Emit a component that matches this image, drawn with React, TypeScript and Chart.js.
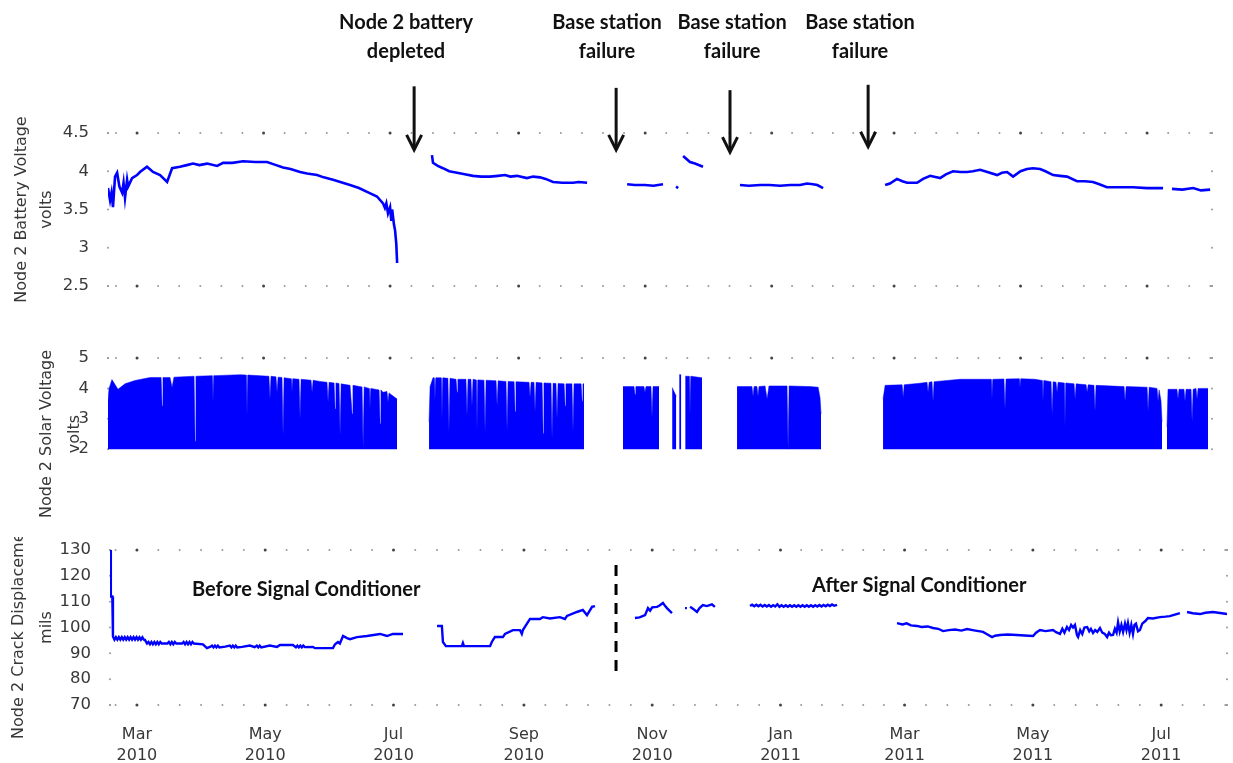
import React, { useEffect, useRef } from "react";
import { Chart, registerables } from "chart.js";
Chart.register(...registerables);

type Pt = [number, number];

// x values are days counted from 1 Mar 2010
const xTickDays = [0, 61, 122, 184, 245, 306, 365, 426, 487];
const xTickLabels = [
  ["Mar", "2010"], ["May", "2010"], ["Jul", "2010"], ["Sep", "2010"], ["Nov", "2010"],
  ["Jan", "2011"], ["Mar", "2011"], ["May", "2011"], ["Jul", "2011"],
];

const batteryTicks = [2.5, 3, 3.5, 4, 4.5];
const solarTicks = [2, 3, 4, 5];
const crackTicks = [70, 80, 90, 100, 110, 120, 130];

// Node 2 battery voltage (volts), one inner array per recorded stretch
const batteryVoltage: Pt[][] = [
  [[-14, 3.78], [-13.5, 3.7], [-13, 3.62], [-12.3, 3.72], [-11.6, 3.53], [-10.6, 3.93], [-9.6, 3.98], [-8.5, 3.8], [-7.2, 3.72], [-6.5, 3.85], [-5.8, 3.65], [-4.8, 3.89], [-4.3, 3.8], [-2.4, 3.91], [0, 3.95], [1.4, 3.99], [4.8, 4.06], [7.7, 3.99], [11.1, 3.95], [14.5, 3.86], [16.9, 4.04], [20.7, 4.06], [24, 4.08], [27, 4.1], [30, 4.08], [33.8, 4.1], [38.6, 4.07], [41.5, 4.11], [46, 4.11], [51.1, 4.13], [57, 4.12], [62.7, 4.12], [66, 4.09], [70.4, 4.05], [74, 4.03], [78.6, 3.99], [82, 3.97], [86.8, 3.95], [90, 3.92], [94.5, 3.89], [98, 3.86], [102.7, 3.82], [107, 3.78], [110.9, 3.73], [115.7, 3.67], [118.6, 3.58], [119.5, 3.52], [120.2, 3.58], [121, 3.45], [122, 3.53], [122.6, 3.35], [123, 3.5], [123.9, 3.3], [124.4, 3.23], [125, 3.05], [125.4, 2.8]],
  [[142.2, 4.21], [142.7, 4.11], [145, 4.07], [147.5, 4.04], [150.5, 4.0], [154.3, 3.98], [158, 3.96], [162, 3.94], [166, 3.93], [170.2, 3.93], [174, 3.94], [177.4, 3.95], [180, 3.93], [183.2, 3.94], [188, 3.91], [191, 3.93], [194.3, 3.92], [197, 3.9], [200.6, 3.86], [205, 3.85], [210.2, 3.85], [213, 3.86], [217, 3.85]],
  [[236.3, 3.83], [240, 3.82], [244.9, 3.82], [249, 3.81], [253.6, 3.83]],
  [[259.9, 3.8], [260.9, 3.78]],
  [[263.3, 4.2], [266.6, 4.12], [269, 4.1], [272.9, 4.06]],
  [[290.7, 3.82], [295, 3.81], [300.4, 3.82], [305, 3.82], [310, 3.81], [315, 3.82], [319.7, 3.82], [323, 3.84], [325.9, 3.83], [328, 3.82], [330.8, 3.78]],
  [[360.7, 3.82], [363, 3.84], [366.4, 3.9], [369, 3.87], [371.3, 3.85], [376.1, 3.85], [379, 3.9], [382.4, 3.94], [387.2, 3.91], [390, 3.96], [393.4, 4], [397, 3.99], [400.2, 3.99], [403, 4.0], [406.5, 4.02], [410, 3.99], [414.7, 3.95], [417, 3.98], [419.5, 3.99], [422.4, 3.93], [426, 4.0], [429.1, 4.03], [432, 4.04], [435.4, 4.03], [438, 4.0], [441.7, 3.95], [445, 3.94], [448.4, 3.93], [453.2, 3.87], [457, 3.87], [460.9, 3.86], [464, 3.83], [467.6, 3.79], [474, 3.79], [480.2, 3.79], [487, 3.78], [494.7, 3.78]],
  [[499, 3.77], [504, 3.76], [509.2, 3.78], [513, 3.75], [517.4, 3.76]],
];

// Node 2 solar voltage (volts): daily peak envelope with low days
const solarVoltage: Pt[][] = [
  [[-14, 3.6], [-13.5, 4.0], [-12.1, 4.29], [-9.2, 3.97], [-5.8, 4.15], [-1, 4.26], [6.3, 4.36], [11.6, 4.36], [12.1, 3.42], [12.5, 4.36], [15.9, 4.36], [16.9, 4.03], [17.8, 4.37], [27.5, 4.4], [28, 2.26], [28.4, 4.4], [36.2, 4.42], [36.6, 3.55], [37.1, 4.42], [49.7, 4.45], [52.6, 4.44], [53, 3.1], [53.5, 4.44], [63.6, 4.4], [64.1, 3.65], [64.6, 4.4], [67, 4.38], [67.5, 3.87], [68, 4.37], [69.9, 4.36], [70.4, 2.45], [70.9, 4.35], [74.3, 4.32], [74.7, 3.87], [75.2, 4.32], [78.1, 4.3], [78.6, 3.0], [79.1, 4.3], [83.9, 4.27], [84.4, 3.87], [84.9, 4.27], [88.2, 4.23], [91.6, 4.2], [92.1, 3.55], [92.6, 4.2], [95, 4.18], [95.5, 3.32], [95.9, 4.18], [97.4, 4.16], [97.9, 2.45], [98.4, 4.15], [102.7, 4.1], [103.7, 3.16], [104.1, 4.1], [108.5, 4.05], [109, 2.03], [109.5, 4.05], [111.9, 4.0], [112.3, 3.32], [112.8, 4.0], [116.7, 3.95], [117.2, 2.84], [117.6, 3.95], [118.6, 3.87], [120.5, 3.9], [121, 3.55], [121.5, 3.85], [124.4, 3.7], [125.4, 3.65]],
  [[140.8, 2.9], [141.3, 4.06], [142.7, 4.35], [143.2, 4.35], [143.6, 3.55], [144.1, 4.35], [146.6, 4.35], [147, 2.94], [147.5, 4.35], [149.9, 4.33], [150.4, 2.58], [150.9, 4.33], [153.8, 4.3], [154.3, 3.87], [154.7, 4.3], [158.6, 4.3], [159.1, 3.1], [159.6, 4.3], [161, 4.3], [161.5, 3.42], [162, 4.3], [163.5, 4.28], [163.9, 2.61], [164.4, 4.28], [167.3, 4.27], [167.8, 2.58], [168.3, 4.27], [173.1, 4.25], [173.6, 3.42], [174.1, 4.25], [177.9, 4.23], [178.4, 2.61], [178.9, 4.23], [181.8, 4.22], [182.3, 3.23], [182.7, 4.22], [189, 4.2], [189.5, 3.7], [190, 4.2], [191.4, 4.2], [191.9, 3.23], [192.4, 4.2], [195.3, 4.18], [195.8, 2.52], [196.2, 4.18], [199.6, 4.17], [200.1, 2.35], [200.6, 4.17], [202, 4.16], [202.5, 3.0], [203, 4.16], [205.9, 4.15], [206.4, 3.42], [206.8, 4.15], [209.7, 4.15], [210.2, 2.58], [210.7, 4.15], [214.1, 4.15], [214.6, 3.58], [215, 4.15], [215.5, 4.15]],
  [[234.3, 4.06], [239.6, 4.06], [240.1, 3.8], [240.5, 4.06], [244.4, 4.06], [244.9, 3.87], [245.4, 4.06], [247.8, 4.06], [248.3, 3.06], [248.8, 4.06], [251.7, 4.06]],
  [[258, 4.03], [260, 3.74]],
  [[261.4, 4.45], [262.4, 4.45]],
  [[264.3, 4.4], [266.2, 4.4], [266.6, 3.1], [267.1, 4.4], [272.4, 4.35]],
  [[289.3, 4.06], [296.5, 4.06], [297, 3.74], [297.5, 4.06], [298.9, 4.06], [299.4, 3.74], [299.9, 4.06], [302.8, 4.08], [303.8, 3.65], [304.7, 4.08], [313.4, 4.08], [313.9, 2.0], [314.4, 4.08], [324.5, 4.06], [328.4, 4.04], [329.3, 3.7], [329.8, 3.16]],
  [[359.7, 3.65], [360.7, 4.1], [368.9, 4.12], [369.4, 3.7], [369.9, 4.12], [377.5, 4.17], [380.9, 4.2], [381.4, 3.87], [381.9, 4.2], [383.3, 4.22], [383.8, 3.58], [384.3, 4.22], [396.8, 4.3], [411.8, 4.3], [412.2, 3.65], [412.7, 4.3], [418, 4.31], [418.5, 3.32], [419, 4.31], [425.3, 4.32], [425.7, 4.03], [426.2, 4.32], [433, 4.3], [436.4, 4.26], [436.8, 3.58], [437.3, 4.26], [440.7, 4.22], [441.2, 3.16], [441.7, 4.22], [443.1, 4.2], [443.6, 3.87], [444.1, 4.2], [447, 4.18], [447.4, 2.74], [447.9, 4.18], [451.8, 4.15], [452.3, 3.65], [452.8, 4.15], [457.6, 4.12], [458.1, 3.87], [458.6, 4.12], [461.4, 4.1], [461.9, 3.26], [462.4, 4.1], [475.9, 4.06], [476.4, 3.58], [476.9, 4.06], [487, 4.04], [487.5, 3.26], [488, 4.04], [491.8, 4.0], [492.3, 3.58], [492.8, 3.95], [493.7, 3.6], [494.2, 2.9]],
  [[496.6, 2.74], [497.1, 3.97], [501.4, 3.97], [501.9, 3.65], [502.4, 3.97], [504.8, 3.97], [505.3, 3.58], [505.8, 3.97], [508.2, 3.97], [508.7, 2.9], [509.2, 3.97], [510.6, 4.0], [511.1, 3.65], [511.6, 4.0], [516.4, 4.0]],
];

// Node 2 crack displacement (mils); rapid alternations are the noisy readings
const crackDisplacement: Pt[][] = [
  [[-12.8, 130], [-12.4, 112], [-11.7, 112], [-11.4, 96.5], [-10.7, 95.3], [-10.0, 96.3], [-9.3, 95.3], [-8.6, 96.3], [-7.9, 95.3], [-7.2, 96.3], [-6.5, 95.3], [-5.8, 96.3], [-5.1, 95.3], [-4.4, 96.3], [-3.7, 95.3], [-3.0, 96.3], [-2.3, 95.3], [-1.6, 96.3], [-0.9, 95.3], [-0.2, 96.3], [0.5, 95.3], [1.2, 96.2], [1.9, 95.3], [2.6, 96.2], [3.3, 95.3], [3.8, 95.2],
    [4.8, 93.8], [5.5, 94.4], [6.2, 93.5], [6.9, 94.4], [7.6, 93.5], [8.3, 94.4], [9, 93.5], [9.7, 94.4], [10.4, 93.5], [11.1, 94.4], [11.8, 93.8], [14.5, 93.8], [15.2, 94.4], [15.9, 93.5], [16.6, 94.4], [17.3, 93.5], [18, 94.4], [18.7, 93.8], [21.5, 93.8], [22.2, 94.4], [22.9, 93.5], [23.6, 94.4], [24.3, 93.5], [25, 94.4], [25.7, 93.5], [26.4, 94.4], [27.1, 93.8], [31.4, 93.5],
    [33.3, 92], [35, 92.6], [35.7, 93], [36.4, 92.3], [37.1, 93], [37.8, 92.3], [38.5, 93], [39.2, 92.3], [42, 92.6], [44.2, 93], [44.9, 92.3], [45.6, 93], [46.3, 92.3], [47, 93], [47.7, 92.3], [50, 92.5], [53.7, 93], [56, 92.4], [57, 93], [57.7, 92.3], [58.4, 93], [59.1, 92.3], [63.2, 93], [66.6, 92.5], [68, 93.2], [74.2, 93.2], [75.6, 92.3], [76.3, 93], [77, 92.3], [77.7, 93], [78.4, 92.3], [79.1, 93], [79.9, 92.4], [83.7, 92.5], [84.6, 92], [93.2, 92], [94.2, 93.5], [95.6, 94.4], [96.5, 93.8], [98, 96.7], [99.9, 95.9], [101.3, 95.5], [104.6, 96.3], [109.4, 96.7], [115.6, 97.5], [118.9, 96.7], [121.7, 97.5], [126.5, 97.5]],
  [[142.7, 100.6], [145, 100.6], [145.5, 94.4], [146.9, 92.8], [154.5, 92.8], [155, 94], [155.5, 92.8], [167.9, 92.8], [168.8, 94.5], [170.2, 96.3], [174, 96.3], [175, 97.5], [178.8, 99], [182.1, 99], [183, 97.5], [183.5, 99], [186.9, 103.3], [191.6, 103.3], [193, 104], [196.4, 103.5], [201.1, 104], [203.5, 103.3], [204.5, 104.5], [209.2, 106], [212, 106.8], [214, 104.8], [216.4, 108], [217.8, 108.3]],
  [[236.8, 103.7], [239, 103.9], [241.6, 104.8], [243, 107.5], [244, 106.5], [245, 107.8], [247.3, 108], [248.5, 108.5], [250.1, 109.5], [251, 108.5], [252, 107.5], [253.2, 106.5], [254.4, 105.6]],
  [[260.6, 107.5], [261.5, 107.5]],
  [[263, 108], [264.5, 107.2], [266.3, 106], [267.5, 107.5], [269.1, 108.7], [271, 108.3], [273.4, 109], [274.8, 108]],
  [[291.5, 108.3], [292.5, 108.8], [293.5, 108.2], [294.5, 108.8], [295.5, 108.2], [296.5, 108.8], [297.5, 108.1], [298.5, 108.7], [299.5, 108.1], [300.5, 108.7], [301.5, 108.0], [302.5, 108.6], [303.5, 108.1], [304.5, 109.0], [305.5, 108.0], [306.5, 108.6], [307.5, 108.0], [308.5, 108.6], [309.5, 108.0], [310.5, 108.6], [311.5, 108.0], [312.5, 108.6], [313.5, 108.0], [314.5, 108.6], [315.5, 108.0], [316.5, 108.6], [317.5, 108.0], [318.5, 108.6], [319.5, 108.0], [320.5, 108.6], [321.5, 108.0], [322.5, 108.6], [323.5, 108.1], [324.5, 108.7], [325.5, 108.1], [326.5, 108.7], [327.5, 108.2], [328.5, 108.8], [329.5, 108.3], [330.5, 108.9], [331.5, 108.4], [332.9, 108.8]],
  [[361.4, 101.7], [364, 101.2], [366, 101.6], [368, 100.8], [370.9, 100.6], [373, 100.2], [376, 100.4], [378.5, 99.8], [381, 99.5], [383.3, 98.6], [386, 99], [389, 99.2], [392, 98.8], [394.7, 99.4], [398, 98.9], [402.3, 98.3], [404, 97.5], [406.6, 96.3], [408, 96.8], [410.4, 97.1], [414, 97.3], [418.4, 97.1], [422, 96.9], [426.1, 96.7], [427.5, 98], [429.4, 99], [432, 98.6], [435.6, 99], [437, 98.2], [438.9, 97.5], [440, 99.5], [441, 98], [442.2, 100.2], [443.2, 99], [444.2, 101], [445.1, 100], [446, 101], [447, 97], [447.5, 96.3], [448.5, 99], [449.5, 97.5], [450.5, 100], [451.8, 100.2], [452.8, 98.5], [453.6, 99.5], [454.6, 97.9], [455.6, 99], [456.6, 98.3], [457.9, 99.8], [459, 98], [460.2, 97.5], [461.3, 96.3], [462.2, 98], [463.1, 97], [464.1, 97.1], [465, 99.5], [465.8, 98], [466.5, 102], [467.3, 98.5], [468.1, 101], [468.9, 98.3], [469.8, 101.5], [470.5, 99], [471.2, 101.7], [472, 98], [472.8, 101], [473.6, 97.5], [474.3, 101], [475, 101.5], [476, 98.5], [476.9, 99], [478, 101.5], [479.5, 102.5], [480.7, 103.7], [483, 103.5], [486.4, 104], [489, 104.2], [491.1, 104.4], [493.5, 105], [495.9, 105.6]],
  [[499.3, 106], [502, 105.5], [505.5, 105.2], [508, 105.7], [511.6, 106], [515, 105.6], [518.3, 105.2]],
];

// dashed divider: signal conditioner installed
const conditionerDivider: Pt[] = [[227.8, 124.2], [227.8, 81.6]];

const topNotes = [
  { lines: ["Node 2 battery", "depleted"], textDay: 129.7, arrowDay: 133.6, arrowFrom: 5.11, arrowTo: 4.28 },
  { lines: ["Base station", "failure"], textDay: 226.6, arrowDay: 231, arrowFrom: 5.09, arrowTo: 4.28 },
  { lines: ["Base station", "failure"], textDay: 286.9, arrowDay: 285.9, arrowFrom: 5.06, arrowTo: 4.25 },
  { lines: ["Base station", "failure"], textDay: 348.6, arrowDay: 352.5, arrowFrom: 5.13, arrowTo: 4.32 },
];
const crackNotes = [
  { text: "Before Signal Conditioner", day: 26.2, value: 114.5 },
  { text: "After Signal Conditioner", day: 321, value: 116.4 },
];

const FONT = "'DejaVu Sans', sans-serif";
const NOTE_FONT = "bold 20px Lato, 'Open Sans', sans-serif";
const TXT = "#383838";
const BLUE = "#0000ff";

function toPoints(segments: Pt[][]) {
  const out: { x: number; y: number | null }[] = [];
  segments.forEach((seg, i) => {
    if (i > 0) {
      const prev = segments[i - 1][segments[i - 1].length - 1][0];
      out.push({ x: (prev + seg[0][0]) / 2, y: null });
    }
    seg.forEach(([x, y]) => out.push({ x, y }));
  });
  return out;
}

const dotFrame = {
  id: "dotFrame",
  beforeDatasetsDraw(chart: any, _args: any, opts: any) {
    const { ctx, chartArea } = chart;
    const { left, right, top, bottom } = chartArea;
    const xs = chart.scales.x;
    const ys = chart.scales.y;
    const dot = (x: number, y: number, major: boolean) => {
      ctx.beginPath();
      ctx.arc(x, y, major ? 1.5 : 1, 0, Math.PI * 2);
      ctx.fillStyle = major ? "#444" : "#999";
      ctx.fill();
    };
    const minors: number[] = [];
    for (let i = 0; i < xTickDays.length - 1; i++) {
      const a = xTickDays[i], b = xTickDays[i + 1];
      for (let k = 1; k < 6; k++) minors.push(a + ((b - a) * k) / 6);
    }
    const step = (xTickDays[1] - xTickDays[0]) / 6;
    for (let v = xTickDays[0] - step; v > xs.min; v -= step) minors.push(v);
    for (let v = xTickDays[xTickDays.length - 1] + step; v < xs.max; v += step) minors.push(v);
    const rows: number[] = [];
    if (opts.top) rows.push(top);
    if (opts.bottom) rows.push(bottom);
    ctx.save();
    rows.forEach((yy) => {
      minors.forEach((v) => dot(xs.getPixelForValue(v), yy, false));
      xTickDays.forEach((v) => dot(xs.getPixelForValue(v), yy, true));
      dot(left, yy, false);
      dot(right, yy, false);
    });
    ys.ticks.forEach((t: any) => {
      const py = ys.getPixelForValue(t.value);
      dot(left, py, false);
      dot(right, py, false);
    });
    ctx.restore();
  },
};

const topNotesPlugin = {
  id: "topNotes",
  afterDraw(chart: any) {
    const { ctx } = chart;
    const xs = chart.scales.x;
    const ys = chart.scales.y;
    ctx.save();
    ctx.fillStyle = "#111";
    ctx.strokeStyle = "#111";
    ctx.font = NOTE_FONT;
    ctx.textAlign = "center";
    ctx.textBaseline = "alphabetic";
    topNotes.forEach((n) => {
      const tx = xs.getPixelForValue(n.textDay);
      ctx.fillText(n.lines[0], tx, 29);
      ctx.fillText(n.lines[1], tx, 58);
      const ax = xs.getPixelForValue(n.arrowDay);
      const y0 = ys.getPixelForValue(n.arrowFrom);
      const y1 = ys.getPixelForValue(n.arrowTo);
      ctx.lineWidth = 3;
      ctx.lineCap = "butt";
      ctx.beginPath();
      ctx.moveTo(ax, y0);
      ctx.lineTo(ax, y1 - 2);
      ctx.stroke();
      ctx.beginPath();
      ctx.moveTo(ax - 7.5, y1 - 15);
      ctx.lineTo(ax, y1);
      ctx.lineTo(ax + 7.5, y1 - 15);
      ctx.stroke();
    });
    ctx.restore();
  },
};

const crackNotesPlugin = {
  id: "crackNotes",
  afterDraw(chart: any) {
    const { ctx } = chart;
    const xs = chart.scales.x;
    const ys = chart.scales.y;
    ctx.save();
    ctx.fillStyle = "#111";
    ctx.font = NOTE_FONT;
    ctx.textAlign = "left";
    ctx.textBaseline = "middle";
    crackNotes.forEach((n) => {
      ctx.fillText(n.text, xs.getPixelForValue(n.day), ys.getPixelForValue(n.value));
    });
    ctx.restore();
  },
};

function yAxis(min: number, max: number, ticks: number[], title: string[], lineHeight: number, titlePad: number) {
  return {
    type: "linear",
    position: "left",
    min,
    max,
    afterFit: (s: any) => {
      s.width = 108;
    },
    afterBuildTicks: (s: any) => {
      s.ticks = ticks.map((v) => ({ value: v }));
    },
    grid: { display: false, drawTicks: false },
    border: { display: false },
    ticks: {
      color: TXT,
      font: { family: FONT, size: 16.5 },
      padding: 19,
      callback: (v: any) => String(v),
    },
    title: {
      display: true,
      text: title,
      color: TXT,
      font: { family: FONT, size: 16, lineHeight },
      padding: { top: titlePad, bottom: 0 },
    },
  };
}

const common = {
  animation: false,
  responsive: true,
  maintainAspectRatio: false,
  events: [],
  elements: { point: { radius: 0 }, line: { tension: 0 } },
};

export default function App() {
  const r1 = useRef<HTMLCanvasElement>(null);
  const r2 = useRef<HTMLCanvasElement>(null);
  const r3 = useRef<HTMLCanvasElement>(null);

  useEffect(() => {
    const c1 = new Chart(r1.current as HTMLCanvasElement, {
      type: "line",
      data: {
        datasets: [
          { data: toPoints(batteryVoltage), borderColor: BLUE, borderWidth: 2.6, fill: false, spanGaps: false },
        ],
      },
      options: {
        ...common,
        layout: { padding: { top: 133, bottom: 44, left: 0, right: 21 } },
        scales: {
          x: { type: "linear", min: -14, max: 518.3, display: false },
          y: yAxis(2.5, 4.5, batteryTicks, ["Node 2 Battery Voltage", "volts"], 25 / 16, 9),
        },
        plugins: { legend: { display: false }, tooltip: { enabled: false }, dotFrame: { top: true, bottom: true } },
      } as any,
      plugins: [dotFrame, topNotesPlugin],
    });

    const c2 = new Chart(r2.current as HTMLCanvasElement, {
      type: "line",
      data: {
        datasets: [
          {
            data: toPoints(solarVoltage),
            borderColor: BLUE,
            backgroundColor: BLUE,
            borderWidth: 0.5,
            fill: { value: 2 },
            spanGaps: false,
          },
        ],
      },
      options: {
        ...common,
        layout: { padding: { top: 58, bottom: 30, left: 0, right: 21 } },
        scales: {
          x: { type: "linear", min: -14, max: 518.3, display: false },
          y: yAxis(0, 5, solarTicks, ["Node 2 Solar Voltage", "volts"], 28 / 16, 33),
        },
        plugins: { legend: { display: false }, tooltip: { enabled: false }, dotFrame: { top: true, bottom: false } },
      } as any,
      plugins: [dotFrame],
    });

    const c3 = new Chart(r3.current as HTMLCanvasElement, {
      type: "line",
      data: {
        datasets: [
          { data: toPoints(crackDisplacement), borderColor: BLUE, borderWidth: 2.4, fill: false, spanGaps: false },
          {
            data: conditionerDivider.map(([x, y]) => ({ x, y })),
            borderColor: "#000",
            borderWidth: 3,
            borderDash: [11, 8],
            fill: false,
          },
        ],
      },
      options: {
        ...common,
        layout: { padding: { top: 30, bottom: 0, left: 2, right: 6 } },
        scales: {
          x: {
            type: "linear",
            min: -12.8,
            max: 518.3,
            afterFit: (s: any) => {
              s.height = 58;
            },
            afterBuildTicks: (s: any) => {
              s.ticks = xTickDays.map((v) => ({ value: v }));
            },
            grid: { display: false, drawTicks: false },
            border: { display: false },
            ticks: {
              autoSkip: false,
              maxRotation: 0,
              color: TXT,
              font: { family: FONT, size: 16, lineHeight: 21 / 16 },
              padding: 19,
              callback: (_v: any, i: number) => xTickLabels[i],
            },
          },
          y: yAxis(70, 130, crackTicks, ["Node 2 Crack Displacement", "mils"], 28 / 16, 3),
        },
        plugins: { legend: { display: false }, tooltip: { enabled: false }, dotFrame: { top: true, bottom: true } },
      } as any,
      plugins: [dotFrame, crackNotesPlugin],
    });

    return () => {
      c1.destroy();
      c2.destroy();
      c3.destroy();
    };
  }, []);

  return (
    <div style={{ position: "absolute", left: 0, top: 0, width: 1233, height: 763, background: "#fff", overflow: "hidden" }}>
      <div style={{ position: "absolute", left: 0, top: 0, width: 1233, height: 330 }}>
        <canvas ref={r1} />
      </div>
      <div style={{ position: "absolute", left: 0, top: 300, width: 1233, height: 240 }}>
        <canvas ref={r2} />
      </div>
      <div style={{ position: "absolute", left: 0, top: 537, width: 1233, height: 226, overflow: "hidden" }}>
        <div style={{ position: "absolute", left: 0, top: -17, width: 1233, height: 243 }}>
          <canvas ref={r3} />
        </div>
      </div>
    </div>
  );
}
